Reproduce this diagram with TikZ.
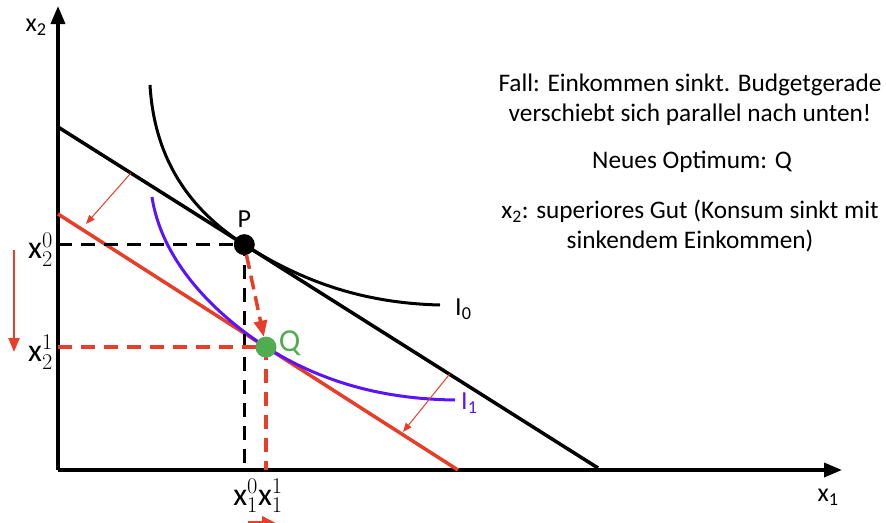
\RequirePackage{fix-cm}
\documentclass[tikz,border=0pt]{standalone}
\usepackage{fontspec}
\setmainfont{Carlito}
\usetikzlibrary{arrows.meta,calc,positioning}

\definecolor{budgetred}{RGB}{230,62,40}
\definecolor{indiffblue}{RGB}{90,20,250}
\definecolor{optgreen}{RGB}{80,172,80}

\begin{document}
\begin{tikzpicture}[x=1pt,y=-1pt,>={Triangle[length=18pt,width=14pt]}]
  % 设置样式
  \tikzstyle{axis}=[->,line width=3.5pt]
  \tikzstyle{budget}=[line width=3.5pt]
  \tikzstyle{indiff}=[line width=3pt]
  \tikzstyle{guide}=[line width=3.5pt,dash pattern=on 14pt off 9pt]
  \tikzstyle{shiftarrow}=[-{Triangle[length=9pt,width=7pt]},budgetred,line width=1pt]
  \tikzstyle{dot}=[circle,inner sep=0pt,minimum size=21pt]
  \tikzstyle{axlabel}=[font=\fontsize{26}{26}\selectfont,inner sep=1pt]
  \tikzstyle{ticklabel}=[font=\fontsize{32}{32}\selectfont,inner sep=1pt]
  \tikzstyle{txt}=[font=\fontsize{25.3}{30}\selectfont,align=center,inner sep=1pt]

  \useasboundingbox (0,0) rectangle (886,522);

  % 坐标轴
  \coordinate (O) at (58,470);
  \coordinate (ytop) at (58,6);
  \coordinate (xend) at (842,470);
  \draw[axis] (O) -- (ytop);
  \draw[axis] (O) -- (xend);
  \node[axlabel] (x2) at (36,27) {x\textsubscript{2}};
  \node[axlabel] (x1) at (828,497) {x\textsubscript{1}};

  % 预算线
  \coordinate (B0a) at (58,127);
  \coordinate (B0b) at (598,468);
  \coordinate (B1a) at (58,214);
  \coordinate (B1b) at (458,470);
  \draw[budget] (B0a) -- (B0b);
  \draw[budget,budgetred] (B1a) -- (B1b);
  \coordinate (Pc) at ($(B0a)!0.345!(B0b)$);
  \coordinate (Qc) at ($(B1a)!0.52!(B1b)$);

  % 无差异曲线
  \draw[indiff] (150,85) .. controls (155,170) and (200,216) .. (Pc)
    .. controls (300,280) and (360,303) .. (440,305) coordinate (I0end);
  \draw[indiff,indiffblue] (152,197) .. controls (162,262) and (215,314) .. (Qc)
    .. controls (320,381) and (380,399) .. (455,400) coordinate (I1end);
  \node[axlabel,anchor=west] (I0) at ($(I0end)+(14,4)$) {I\textsubscript{0}};
  \node[axlabel,anchor=west,text=indiffblue] (I1) at ($(I1end)+(5,3)$) {I\textsubscript{1}};

  % 辅助虚线
  \draw[guide] (O |- Pc) -- (Pc) -- (Pc |- O);
  \draw[guide,budgetred] (O |- Qc) -- (Qc) -- (Qc |- O);
  \node[ticklabel,anchor=east] (x20) at ($(O |- Pc)+(-4,5)$) {x$^0_2$};
  \node[ticklabel,anchor=east] (x21) at ($(O |- Qc)+(-4,5)$) {x$^1_2$};
  \node[ticklabel] (x1lbl) at (258,496) {x$^0_1$x$^1_1$};

  % 平移箭头
  \coordinate (s1) at ($(B0a)!0.135!(B0b)$);
  \coordinate (t1) at (86,224);
  \coordinate (s2) at ($(B0a)!0.725!(B0b)$);
  \coordinate (t2) at (403,432);
  \draw[shiftarrow] (s1) -- (t1);
  \draw[shiftarrow] (s2) -- (t2);
  \coordinate (d0) at (14,250);
  \coordinate (d1) at (14,352);
  \draw[-{Triangle[length=14pt,width=11pt]},budgetred,line width=2.2pt] (d0) -- (d1);
  \coordinate (r0) at (248,523);
  \coordinate (r1) at (276,523);
  \draw[-{Triangle[length=14pt,width=13pt]},budgetred,line width=4pt] (r0) -- (r1);

  % 最优点
  \node[dot,fill=black] (P) at (Pc) {};
  \node[dot,fill=optgreen] (Q) at (Qc) {};
  \node[axlabel,above=5pt of P] (Plbl) {P};
  \node[ticklabel,right=1pt of Q,yshift=4pt,text=optgreen] (Qlbl) {Q};
  \draw[-{Triangle[length=16pt,width=13pt]},budgetred,line width=3.5pt,
    dash pattern=on 14pt off 7pt] (P) -- (Q);

  % 文字说明
  \node[txt] (fall) at (690,100) {Fall: Einkommen sinkt. Budgetgerade\\verschiebt sich parallel nach unten!};
  \node[txt] (neu) at (692,162) {Neues Optimum: Q};
  \node[txt] (sup) at (690,226) {x\textsubscript{2}: superiores Gut (Konsum sinkt mit\\sinkendem Einkommen)};
\end{tikzpicture}
\end{document}
